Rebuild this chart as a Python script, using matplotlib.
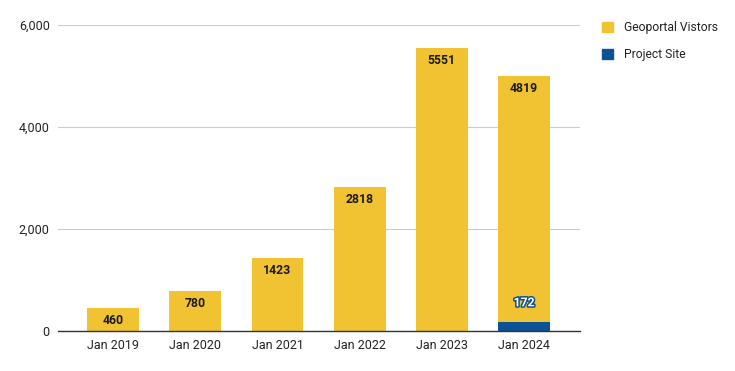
"""Yearly visitors: geoportal vs project site (stacked columns)."""

import matplotlib
matplotlib.use("Agg")
import matplotlib.pyplot as plt
import matplotlib.patheffects as pe
from matplotlib.patches import Patch
from matplotlib.ticker import FuncFormatter
import numpy as np

years = ["Jan 2019", "Jan 2020", "Jan 2021", "Jan 2022", "Jan 2023", "Jan 2024"]
project_site = [0, 0, 0, 0, 0, 172]
geoportal = [460, 780, 1423, 2818, 5551, 4819]

YELLOW = "#F1C232"
BLUE = "#0B5394"

plt.rcParams["font.family"] = ["Roboto", "DejaVu Sans"]

fig = plt.figure(figsize=(7.35, 3.71), dpi=100)
ax = fig.add_axes([58 / 735, 40 / 371, 522 / 735, 306 / 371])

x = np.arange(len(years))
w = 0.63
ax.bar(x, project_site, width=w, color=BLUE, zorder=3)
ax.bar(x, geoportal, width=w, bottom=project_site, color=YELLOW, zorder=3)

# value labels inside the top of each yellow column
for xi, g, p in zip(x, geoportal, project_site):
    ax.annotate(f"{g}", (xi, g + p), xytext=(0, -9), textcoords="offset points",
                ha="center", va="center", fontsize=8.8, fontweight="bold",
                color="#1a1a1a", zorder=4)
for xi, p in zip(x, project_site):
    if p:
        ax.annotate(f"{p}", (xi, p), xytext=(0, 14), textcoords="offset points",
                    ha="center", va="center", fontsize=8.8, fontweight="bold",
                    color="white", zorder=4,
                    path_effects=[pe.withStroke(linewidth=2.2, foreground=BLUE)])

ax.set_xlim(-0.67, 5.68)
ax.set_ylim(0, 6000)
ax.set_yticks([0, 2000, 4000, 6000])
ax.yaxis.set_major_formatter(FuncFormatter(lambda v, _: f"{v:,.0f}"))
ax.set_xticks(x, years)
ax.tick_params(axis="both", length=0, labelsize=9, colors="#222222")
ax.tick_params(axis="y", pad=6)
ax.tick_params(axis="x", pad=6)
ax.grid(axis="y", color="#cccccc", linewidth=0.8, zorder=0)
for s in ["top", "right", "left"]:
    ax.spines[s].set_visible(False)
ax.spines["bottom"].set_color("#333333")
ax.spines["bottom"].set_linewidth(1.0)
ax.spines["bottom"].set_zorder(5)

handles = [Patch(color=YELLOW, label="Geoportal Vistors"),
           Patch(color=BLUE, label="Project Site")]
fig.legend(handles=handles, loc="upper left", bbox_to_anchor=(591 / 735, 1 - 10 / 371),
           frameon=False, fontsize=8.7, handlelength=0.9, handleheight=0.9,
           handletextpad=0.9, labelspacing=1.15, labelcolor="#222222")

fig.savefig("out.png", dpi=100)
